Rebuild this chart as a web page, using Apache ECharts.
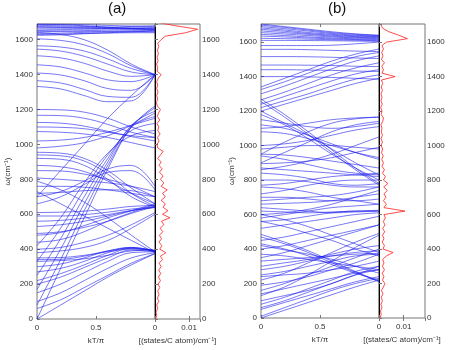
<!DOCTYPE html>
<html lang="en" style="height: 100%">
<head>
  <meta charset="utf-8">
</head>
<body style="height: 100%; margin: 0; background: #fff">
  <div id="container" style="width: 449px; height: 350px"></div>

  <script type="text/javascript" src="https://cdn.jsdelivr.net/npm/echarts@6/dist/echarts.min.js"></script>

  <script type="text/javascript">
    // wave vector samples (kT/pi) used for every branch
    var kGrid = [0, 0.2, 0.4, 0.6, 0.8, 1];

    // panel (a) phonon branches, frequency (cm-1) at each kGrid point
    var bandsA = [
      [1690,1689,1686,1682,1678,1675],
      [1688,1686,1680,1672,1666,1662],
      [1682,1680,1676,1670,1664,1660],
      [1675,1674,1672,1672,1676,1680],
      [1672,1670,1668,1664,1660,1658],
      [1666,1666,1665,1666,1668,1670],
      [1656,1658,1660,1662,1664,1665],
      [1652,1650,1648,1648,1650,1652],
      [1646,1648,1652,1655,1656,1655],
      [1636,1638,1642,1645,1646,1645],
      [1630,1632,1636,1638,1640,1640],
      [1625,1628,1634,1640,1645,1650],
      [1642,1630,1600,1540,1460,1400],
      [1605,1596,1570,1520,1450,1400],
      [1565,1558,1535,1490,1435,1400],
      [1546,1535,1505,1460,1415,1400],
      [1508,1496,1465,1420,1390,1400],
      [1456,1444,1410,1370,1360,1400],
      [1409,1398,1365,1320,1310,1400],
      [1365,1352,1315,1275,1270,1400],
      [1332,1318,1280,1245,1250,1400],
      [1200,1198,1185,1150,1100,1060],
      [1167,1165,1150,1115,1070,1040],
      [1126,1122,1105,1075,1045,1020],
      [1100,1098,1090,1070,1050,1040],
      [1074,1070,1060,1040,1010,980],
      [1020,1025,1040,1070,1110,1150],
      [980,990,1010,1050,1110,1180],
      [955,950,920,850,750,660],
      [940,935,905,830,720,645],
      [920,915,880,800,700,640],
      [880,872,845,790,720,660],
      [850,848,830,800,760,700],
      [808,800,790,780,760,730],
      [760,760,755,740,720,700],
      [720,725,735,740,735,700],
      [700,730,790,860,880,760],
      [660,700,770,840,850,740],
      [610,612,618,630,645,650],
      [590,590,598,612,630,642],
      [560,565,578,598,622,638],
      [530,540,560,590,620,640],
      [490,500,525,560,605,645],
      [480,495,535,580,620,660],
      [440,455,500,560,610,655],
      [400,410,440,480,540,610],
      [380,390,410,450,520,600],
      [730,660,590,520,450,380],
      [790,740,670,580,480,385],
      [0,80,160,240,310,375],
      [60,110,180,250,320,375],
      [100,150,220,290,350,380],
      [150,200,265,330,380,385],
      [200,240,295,350,395,385],
      [220,260,310,365,405,388],
      [270,290,330,380,410,390],
      [300,315,350,390,410,390],
      [330,335,345,365,390,395],
      [340,342,360,390,405,392],
      [350,352,365,385,400,392],
      [0,290,580,860,1100,1220],
      [80,340,620,880,1100,1210],
      [170,400,660,900,1110,1190],
      [250,460,700,920,1100,1160],
      [330,520,740,940,1080,1120],
      [420,580,780,950,1050,1080],
      [700,850,1000,1150,1280,1400]
    ];

    // panel (b) phonon branches
    var bandsB = [
      [1705,1690,1675,1660,1648,1640],
      [1698,1685,1670,1655,1645,1638],
      [1690,1678,1664,1650,1640,1635],
      [1682,1670,1656,1645,1636,1632],
      [1674,1663,1650,1640,1632,1628],
      [1665,1655,1645,1635,1628,1625],
      [1655,1647,1638,1630,1624,1620],
      [1645,1638,1630,1624,1619,1616],
      [1635,1630,1624,1619,1615,1612],
      [1622,1620,1617,1614,1611,1608],
      [1610,1610,1609,1608,1606,1604],
      [1580,1580,1580,1582,1590,1600],
      [1558,1558,1556,1552,1548,1545],
      [1516,1516,1515,1512,1508,1505],
      [1467,1467,1466,1464,1460,1458],
      [1440,1440,1438,1436,1432,1430],
      [1400,1400,1398,1395,1390,1385],
      [1340,1390,1440,1490,1530,1560],
      [1325,1370,1420,1470,1515,1540],
      [1300,1345,1395,1445,1490,1520],
      [1265,1310,1360,1410,1450,1480],
      [1240,1285,1330,1375,1415,1440],
      [1220,1260,1300,1345,1385,1410],
      [1200,1240,1280,1320,1360,1390],
      [1270,1180,1080,975,870,780],
      [1255,1165,1065,960,860,770],
      [1200,1130,1060,980,900,830],
      [1180,1120,1040,950,870,800],
      [1150,1130,1110,1100,1110,1130],
      [1100,1110,1130,1150,1160,1165],
      [950,1020,1080,1130,1155,1165],
      [900,960,1020,1080,1120,1140],
      [1120,1100,1060,1010,960,920],
      [1080,1070,1040,1000,960,930],
      [1000,1010,1030,1060,1090,1110],
      [980,990,1000,1000,990,980],
      [950,945,930,910,890,870],
      [940,920,890,860,840,830],
      [895,900,910,930,960,990],
      [870,860,850,840,830,820],
      [860,880,910,950,1000,1050],
      [840,830,810,780,770,780],
      [800,800,790,770,760,760],
      [770,780,800,820,830,840],
      [760,750,730,700,680,660],
      [720,740,770,790,800,800],
      [700,700,690,680,680,690],
      [680,690,700,710,730,760],
      [660,665,670,680,700,720],
      [640,630,620,610,615,620],
      [620,615,610,615,620,625],
      [600,610,630,660,700,740],
      [580,600,620,640,650,660],
      [560,570,590,610,620,620],
      [520,540,560,580,600,610],
      [450,470,500,530,560,590],
      [400,420,450,480,510,540],
      [485,440,390,330,270,213],
      [470,430,380,320,265,210],
      [430,400,360,310,260,220],
      [420,395,370,340,300,260],
      [560,530,490,450,400,360],
      [600,570,530,480,430,380],
      [370,360,340,320,300,280],
      [0,45,90,135,180,220],
      [10,60,110,160,200,230],
      [50,90,130,170,210,240],
      [60,100,150,200,250,280],
      [80,120,170,220,270,300],
      [100,130,160,200,250,300],
      [140,170,200,230,260,280],
      [160,200,250,300,350,400],
      [190,210,240,280,320,370],
      [240,250,260,280,300,330],
      [250,270,300,330,360,370],
      [280,300,330,360,380,390],
      [300,320,340,370,400,420],
      [330,340,350,360,370,375],
      [350,380,420,460,500,540],
      [220,260,320,380,440,490],
      [130,180,250,330,410,480]
    ];

    // density of states, sampled every 20 cm-1 (values in 1e-3 states/C atom/cm-1)
    var dosFreq = [0,20,40,60,80,100,120,140,160,180,200,220,240,260,280,300,320,340,360,380,
      400,420,440,460,480,500,520,540,560,580,600,620,640,660,680,700,720,740,760,780,
      800,820,840,860,880,900,920,940,960,980,1000,1020,1040,1060,1080,1100,1120,1140,1160,1180,
      1200,1220,1240,1260,1280,1300,1320,1340,1360,1380,1400,1420,1440,1460,1480,1500,1520,1540,1560,1580,
      1600,1620,1640,1660,1680,1700];
    var dosA = [0.2,0.5,0.3,0.8,0.5,1.1,0.7,1.2,0.8,1.4,0.9,1.6,1.0,1.7,1.1,1.8,1.2,2.2,1.6,3.2,
      1.4,2.0,1.2,1.9,1.3,2.3,1.5,2.6,1.9,4.4,2.2,3.8,2.4,3.0,1.8,3.0,2.2,3.6,1.8,2.6,
      1.6,2.4,1.3,2.1,1.2,1.8,0.8,1.6,2.4,0.8,0.6,1.2,0.7,1.5,0.8,1.1,0.6,1.4,0.7,1.0,
      1.6,0.7,0.4,0.8,0.5,0.9,0.5,0.8,0.5,1.0,1.8,0.6,0.8,0.5,0.9,0.6,1.0,0.7,1.1,0.8,
      1.8,3.0,9.0,12.5,6.0,0.5];
    var dosB = [0.4,0.9,0.6,1.2,0.8,1.4,0.9,1.6,1.0,1.8,2.4,1.4,2.0,1.3,2.2,1.4,2.0,1.5,3.0,5.7,
      1.6,2.2,1.3,2.0,1.4,2.3,1.5,2.4,1.7,2.6,2.0,10.5,2.0,3.0,1.8,2.8,2.0,3.4,1.9,3.6,
      1.8,2.6,1.4,2.2,1.2,1.8,1.1,1.7,1.0,1.5,0.8,1.4,0.8,1.4,0.9,1.2,0.8,1.5,1.8,0.9,
      1.2,0.7,1.3,0.8,1.2,0.8,1.4,0.9,1.5,1.0,6.5,1.2,1.8,1.1,2.2,1.0,1.6,1.1,1.8,1.2,
      3.0,11.5,8.0,4.0,1.5,0.8];

    var font = 'Liberation Sans';
    var labelStyle = { fontFamily: font, fontSize: 8, color: '#333' };
    var frame = '#777';

    var dom = document.getElementById('container');
    var myChart = echarts.init(dom, null, { renderer: 'canvas' });

    function bandSeries(bands, xi, yi) {
      return bands.map(function (b) {
        return {
          type: 'line', xAxisIndex: xi, yAxisIndex: yi,
          data: kGrid.map(function (k, i) { return [k, b[i]]; }),
          smooth: 0.4, symbol: 'none', silent: true, clip: true,
          lineStyle: { width: 0.8, color: 'rgba(20,20,235,0.72)' }
        };
      });
    }
    function dosSeries(vals, xi, yi) {
      return {
        type: 'line', xAxisIndex: xi, yAxisIndex: yi,
        data: vals.map(function (v, i) { return [v / 1000, dosFreq[i]]; }),
        symbol: 'none', silent: true, clip: true,
        lineStyle: { width: 0.8, color: '#ff2020' }
      };
    }

    var grids = [
      { left: 37, top: 24, width: 118, height: 295 },
      { left: 155, top: 24, width: 45, height: 295 },
      { left: 261, top: 24, width: 118, height: 294 },
      { left: 379, top: 24, width: 46, height: 294 }
    ].map(function (g) {
      return Object.assign({ show: true, borderColor: frame, borderWidth: 1, containLabel: false }, g);
    });

    function plain(v) { return String(v); }

    function kAxis(gi, pos) {
      return {
        type: 'value', gridIndex: gi, position: pos, min: 0, max: 1, interval: 0.5,
        axisLine: { show: false }, splitLine: { show: false },
        axisTick: { inside: true, length: 3, lineStyle: { color: frame } },
        axisLabel: { show: pos === 'bottom', showMaxLabel: false, margin: 5, textStyle: labelStyle, formatter: plain },
        name: pos === 'bottom' ? 'kT/π' : '', nameLocation: 'middle', nameGap: 18,
        nameTextStyle: labelStyle
      };
    }
    function dosAxis(gi, max, pos) {
      return {
        type: 'value', gridIndex: gi, position: pos, min: 0, max: max, interval: 0.01,
        axisLine: { show: false }, splitLine: { show: false },
        axisTick: { inside: true, length: 3, lineStyle: { color: frame } },
        axisLabel: { show: pos === 'bottom', showMaxLabel: false, margin: 5, textStyle: labelStyle,
          formatter: function (v) { return v === 0 ? '0' : '0.01'; } },
        name: pos === 'bottom' ? '[(states/C atom)/cm⁻¹]' : '', nameLocation: 'middle', nameGap: 18,
        nameTextStyle: labelStyle
      };
    }
    function freqAxis(gi, max, pos, opts) {
      return Object.assign({
        type: 'value', gridIndex: gi, position: pos, min: 0, max: max, interval: 200,
        axisLine: { show: false }, splitLine: { show: false },
        axisTick: { inside: true, length: 3, lineStyle: { color: frame } },
        axisLabel: { show: false }
      }, opts);
    }
    var leftLabels = { show: true, showMaxLabel: false, margin: 4, textStyle: labelStyle, formatter: plain };
    var rightLabels = { show: true, showMaxLabel: false, margin: 2, textStyle: labelStyle, formatter: plain };

    var yMaxA = 1690, yMaxB = 1705;

    var option = {
      animation: false,
      backgroundColor: '#fff',
      grid: grids,
      xAxis: [
        kAxis(0, 'bottom'), dosAxis(1, 0.0132, 'bottom'),
        kAxis(2, 'bottom'), dosAxis(3, 0.0186, 'bottom'),
        kAxis(0, 'top'), dosAxis(1, 0.0132, 'top'),
        kAxis(2, 'top'), dosAxis(3, 0.0186, 'top')
      ],
      yAxis: [
        freqAxis(0, yMaxA, 'left', {
          axisLabel: leftLabels,
          name: 'ω(cm⁻¹)', nameLocation: 'middle', nameGap: 24, nameTextStyle: labelStyle
        }),
        freqAxis(1, yMaxA, 'left', { axisLine: { show: true, lineStyle: { color: '#000', width: 1 } } }),
        freqAxis(1, yMaxA, 'right', {
          axisTick: { inside: false, length: 3, lineStyle: { color: frame } },
          axisLabel: rightLabels
        }),
        freqAxis(2, yMaxB, 'left', {
          axisLabel: leftLabels,
          name: 'ω(cm⁻¹)', nameLocation: 'middle', nameGap: 24, nameTextStyle: labelStyle
        }),
        freqAxis(3, yMaxB, 'left', { axisLine: { show: true, lineStyle: { color: '#000', width: 1 } } }),
        freqAxis(3, yMaxB, 'right', {
          axisTick: { inside: false, length: 3, lineStyle: { color: frame } },
          axisLabel: rightLabels
        })
      ],
      graphic: [
        { type: 'text', left: 108, top: 1, style: { text: '(a)', font: '15px "Liberation Sans"', fill: '#111' } },
        { type: 'text', left: 328, top: 1, style: { text: '(b)', font: '15px "Liberation Sans"', fill: '#111' } }
      ],
      series: []
        .concat(bandSeries(bandsA, 0, 0))
        .concat(bandSeries(bandsB, 2, 3))
        .concat([dosSeries(dosA, 1, 1), dosSeries(dosB, 3, 4)])
    };

    myChart.setOption(option);
    window.addEventListener('resize', myChart.resize);
  </script>
</body>
</html>
